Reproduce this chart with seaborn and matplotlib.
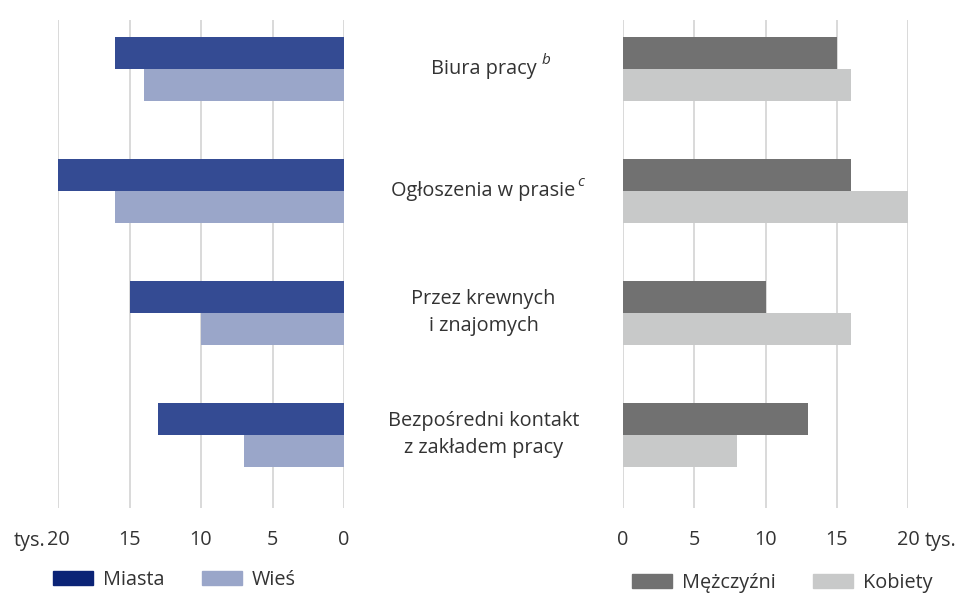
import numpy as np
import pandas as pd
import matplotlib.pyplot as plt
import matplotlib.transforms as mtransforms
from matplotlib.patches import Patch
import seaborn as sns

# --- dane (tys. osob) ---
kategorie = ["Biura pracy", "Ogłoszenia w prasie", "Przez krewnych\ni znajomych",
             "Bezpośredni kontakt\nz zakładem pracy"]
przypisy = ["b", "c", "", ""]

miasta = [16, 20, 15, 13]
wies = [14, 16, 10, 7]
mezczyzni = [15, 16, 10, 13]
kobiety = [16, 20, 16, 8]

ticki = [0, 5, 10, 15, 20]

sns.set_theme(style="white")
plt.rcParams['font.family'] = ['Open Sans', 'DejaVu Sans']
TXT = '#333333'
GRID = '#d9d9d9'
FS = 14.3

# tabele w formacie dlugim dla seaborn
df_lewy = pd.DataFrame({
    'kategoria': kategorie * 2,
    'wartosc': miasta + wies,
    'grupa': ['Miasta'] * 4 + ['Wieś'] * 4,
})
df_prawy = pd.DataFrame({
    'kategoria': kategorie * 2,
    'wartosc': mezczyzni + kobiety,
    'grupa': ['Mężczyźni'] * 4 + ['Kobiety'] * 4,
})

fig = plt.figure(figsize=(9.6, 5.97), dpi=100)
fig.patch.set_facecolor('white')
ax1 = fig.add_axes([58 / 960, 1 - 508 / 597, 286 / 960, 488 / 597])
ax2 = fig.add_axes([623 / 960, 1 - 508 / 597, 285 / 960, 488 / 597])

sns.barplot(data=df_lewy, x='wartosc', y='kategoria', hue='grupa', orient='h',
            palette=['#344b93', '#9aa6c9'], width=0.525, ax=ax1, legend=False,
            saturation=1, edgecolor='none')
sns.barplot(data=df_prawy, x='wartosc', y='kategoria', hue='grupa', orient='h',
            palette=['#717171', '#c8c9c9'], width=0.525, ax=ax2, legend=False,
            saturation=1, edgecolor='none')

ax1.set_xlim(20, 0)
ax2.set_xlim(0, 20)
for ax in (ax1, ax2):
    ax.set_ylim(3.6, -0.4)
    ax.set_xticks(ticks=ticki)
    ax.set_xticklabels([str(t) for t in ticki])
    ax.set_yticks([])
    ax.set_xlabel('')
    ax.set_ylabel('')
    for s in ax.spines.values():
        s.set_visible(False)
    ax.grid(axis='x', color=GRID, linewidth=1.4)
    ax.set_axisbelow(True)
    ax.tick_params(axis='x', length=0, pad=16, labelsize=FS, labelcolor=TXT)
    ax.set_facecolor('none')

# etykiety kategorii miedzy wykresami
trans = mtransforms.blended_transform_factory(ax2.transAxes, ax2.transData)
xc = (483.5 - 623) / 285
for i, (kat, p) in enumerate(zip(kategorie, przypisy)):
    t = ax2.text(xc, i, kat, transform=trans, ha='center', va='center',
                 fontsize=FS, color=TXT, linespacing=1.45)
    if p:
        dx = 4 if p == 'b' else 1
        ax2.annotate(p, xy=(1, 0.55), xycoords=t, xytext=(dx, 0),
                     textcoords='offset points', fontsize=11, fontstyle='italic',
                     color=TXT, va='bottom', ha='left')

# jednostka przy osiach
y_tys = 1 - 541 / 597
fig.text(45 / 960, y_tys, 'tys.', ha='right', va='center', fontsize=FS, color=TXT)
fig.text(925 / 960, y_tys, 'tys.', ha='left', va='center', fontsize=FS, color=TXT)

# legendy
uchwyty_l = [Patch(color='#0b2376', label='Miasta'), Patch(color='#9aa6c9', label='Wieś')]
uchwyty_p = [Patch(color='#717171', label='Mężczyźni'), Patch(color='#c8c9c9', label='Kobiety')]
opcje = dict(ncol=2, frameon=False, fontsize=FS, handlelength=2.0, handleheight=0.7,
             handletextpad=0.5, columnspacing=1.9, borderpad=0, borderaxespad=0,
             labelcolor=TXT)
fig.legend(handles=uchwyty_l, loc='center left',
           bbox_to_anchor=(53 / 960, 1 - 580 / 597), **opcje)
fig.legend(handles=uchwyty_p, loc='center left',
           bbox_to_anchor=(632 / 960, 1 - 583 / 597), **opcje)

fig.savefig('out.png', dpi=100)
